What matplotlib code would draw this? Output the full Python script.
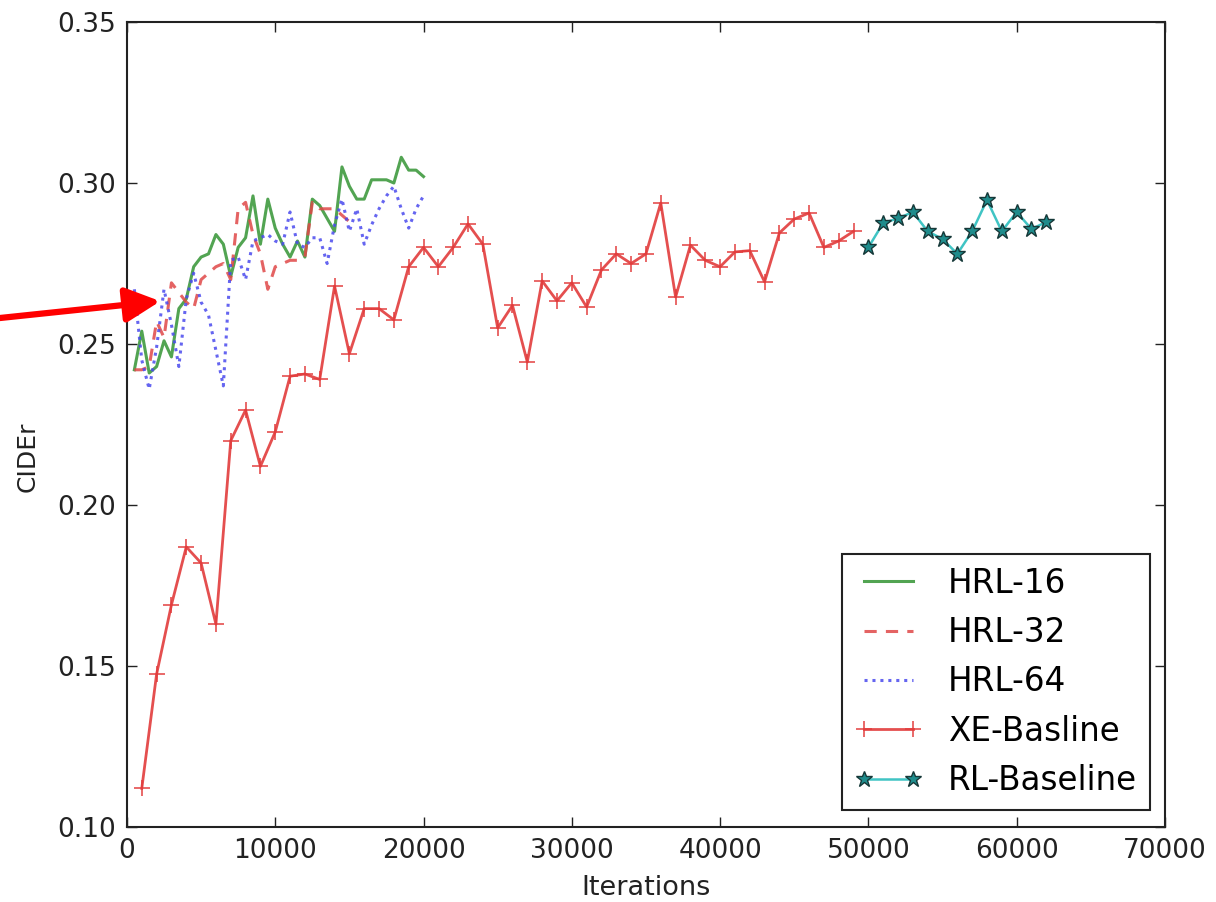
import numpy as np
import matplotlib
matplotlib.use('Agg')
import matplotlib.pyplot as plt

# HRL curves are logged every 500 iterations
hrl16_iters = list(range(500, 20001, 500))
hrl16 = [0.242, 0.254, 0.241, 0.243, 0.251, 0.246, 0.261, 0.264, 0.274, 0.277,
         0.278, 0.284, 0.281, 0.271, 0.280, 0.283, 0.296, 0.281, 0.295, 0.286,
         0.281, 0.277, 0.282, 0.277, 0.295, 0.293, 0.289, 0.285, 0.305, 0.299,
         0.295, 0.295, 0.301, 0.301, 0.301, 0.300, 0.308, 0.304, 0.304, 0.302]

hrl32_iters = list(range(500, 15001, 500))
hrl32 = [0.242, 0.242, 0.243, 0.257, 0.252, 0.269, 0.266, 0.263, 0.261, 0.270,
         0.272, 0.274, 0.275, 0.270, 0.292, 0.294, 0.284, 0.278, 0.267, 0.274,
         0.275, 0.276, 0.276, 0.277, 0.294, 0.292, 0.292, 0.292, 0.290, 0.288]

hrl64_iters = list(range(500, 20001, 500))
hrl64 = [0.267, 0.245, 0.236, 0.249, 0.267, 0.256, 0.243, 0.264, 0.272, 0.263,
         0.259, 0.248, 0.237, 0.276, 0.277, 0.270, 0.282, 0.283, 0.284, 0.282,
         0.281, 0.291, 0.281, 0.280, 0.283, 0.283, 0.275, 0.287, 0.295, 0.285,
         0.292, 0.281, 0.287, 0.292, 0.296, 0.299, 0.292, 0.286, 0.292, 0.296]

xe_iters = list(range(1000, 49001, 1000))
xe = [0.112, 0.1475, 0.169, 0.187, 0.182, 0.163, 0.220, 0.2295, 0.212, 0.2227,
      0.240, 0.2407, 0.239, 0.268, 0.247, 0.261, 0.261, 0.2575, 0.274, 0.280,
      0.274, 0.280, 0.2873, 0.281, 0.255, 0.262, 0.2444, 0.2696, 0.2634, 0.269,
      0.2615, 0.273, 0.278, 0.275, 0.278, 0.2938, 0.2646, 0.2807, 0.276, 0.274,
      0.2786, 0.279, 0.2693, 0.2845, 0.2888, 0.2907, 0.280, 0.282, 0.285]

rl_iters = list(range(50000, 62001, 1000))
rl = [0.280, 0.2876, 0.289, 0.291, 0.285, 0.2826, 0.278, 0.285, 0.2947, 0.285,
      0.291, 0.2857, 0.2879]

x_ticks = [0, 10000, 20000, 30000, 40000, 50000, 60000, 70000]
y_ticks = [0.10, 0.15, 0.20, 0.25, 0.30, 0.35]

fig = plt.figure(figsize=(12.16, 9.02), dpi=100)
ax = fig.add_axes([0.1044, 0.0831, 0.8536, 0.8925])

ax.plot(hrl16_iters, hrl16, color='#3f9a3f', lw=2.2, alpha=0.9, label='HRL-16')
ax.plot(hrl32_iters, hrl32, color='#e04848', lw=2.2, alpha=0.85, dashes=[4, 3], label='HRL-32')
ax.plot(hrl64_iters, hrl64, color='#4a4aee', lw=2.2, alpha=0.85, dashes=[1, 1.6], label='HRL-64')
ax.plot(xe_iters, xe, color='#e23c3c', lw=2, alpha=0.9, marker='+', ms=11, mew=1.2,
        label='XE-Basline')
ax.plot(rl_iters, rl, color='#40c4c4', lw=1.8, marker='*', ms=12,
        markerfacecolor='#1f8c8c', markeredgecolor='#163838', mew=1, label='RL-Baseline')

ax.set_xlim(0, 70000)
ax.set_ylim(0.10, 0.35)
ax.set_xticks(x_ticks)
ax.set_yticks(y_ticks)
ax.set_xticklabels([str(t) for t in x_ticks])
ax.set_yticklabels(['%.2f' % t for t in y_ticks])
ax.tick_params(direction='in', top=True, right=True, length=7, width=1,
               labelsize=19, pad=8, colors='#222222')
for s in ax.spines.values():
    s.set_linewidth(1.5)
    s.set_color('#222222')

ax.set_xlabel('Iterations', fontsize=19.5, color='#222222', labelpad=8)
ax.set_ylabel('CIDEr', fontsize=18, color='#222222')
ax.yaxis.set_label_coords(-0.084, 0.46)

leg = ax.legend(loc='lower right', bbox_to_anchor=(0.9855, 0.021), borderaxespad=0,
                fontsize=23.5, numpoints=2, handlelength=2.1, handletextpad=0.75,
                labelspacing=0.5, borderpad=0.4, fancybox=False, framealpha=1)
leg.get_frame().set_edgecolor('#222222')
leg.get_frame().set_linewidth(1.5)

# red arrow pointing at the start of the curves
ax.annotate('', xy=(2250, 0.2633), xytext=(0, 1 - 318 / 902), textcoords='figure fraction',
            xycoords='data', annotation_clip=False,
            arrowprops=dict(arrowstyle='-|>,head_length=0.7,head_width=0.35',
                            mutation_scale=30, color='#ff0000', lw=4.5,
                            shrinkA=0, shrinkB=0))

fig.savefig('out.png', dpi=100)
